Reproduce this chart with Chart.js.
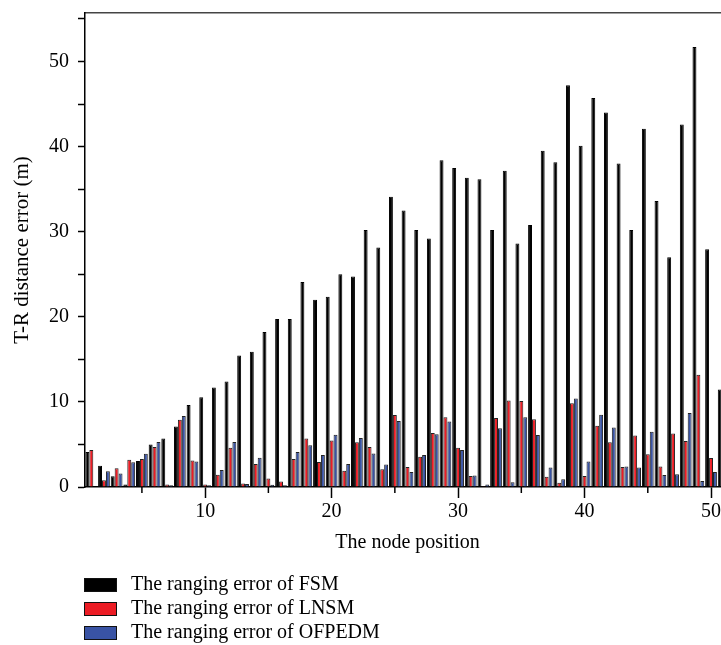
<!DOCTYPE html>
<html>
<head>
<meta charset="utf-8">
<script src="https://cdn.jsdelivr.net/npm/chart.js@4.4.0/dist/chart.umd.min.js"></script>
<style>
html, body { margin: 0; padding: 0; overflow: hidden; background: #fff; }
canvas { display: block; }
</style>
</head>
<body>
<canvas id="myChart" width="740" height="645"></canvas>
<script>
// node positions on the x axis
var nodePositions = ['1','2','3','4','5','6','7','8','9','10','11','12','13','14','15','16','17','18','19','20',
    '21','22','23','24','25','26','27','28','29','30','31','32','33','34','35','36','37','38','39','40',
    '41','42','43','44','45','46','47','48','49','50','51'];

// ranging errors (m)
var fsmError = [4.1, 2.5, 1.25, 0.3, 3.05, 5.0, 5.7, 7.1, 9.65, 10.55,
    11.7, 12.4, 15.45, 15.9, 18.2, 19.75, 19.75, 24.1, 22.0, 22.35,
    25.0, 24.75, 30.2, 28.15, 34.1, 32.5, 30.2, 29.2, 38.4, 37.5,
    36.35, 36.15, 30.2, 37.15, 28.6, 30.8, 39.5, 38.15, 47.2, 40.1,
    45.7, 44.0, 38.0, 30.2, 42.1, 33.6, 27.0, 42.6, 51.7, 27.95, 11.45];
var lnsmError = [4.35, 0.8, 2.2, 3.2, 3.3, 4.7, 0.3, 7.9, 3.1, 0.3,
    1.45, 4.6, 0.4, 2.7, 1.0, 0.65, 3.3, 5.7, 2.95, 5.45,
    1.9, 5.25, 4.7, 2.1, 8.45, 2.35, 3.55, 6.35, 8.2, 4.6,
    1.3, 0.1, 8.1, 10.15, 10.1, 7.95, 1.2, 0.5, 9.85, 1.3,
    7.2, 5.25, 2.35, 6.05, 3.85, 2.4, 6.3, 5.4, 13.2, 3.4, 2.0];
var ofpedmError = [0, 1.85, 1.6, 2.9, 3.9, 5.3, 0.2, 8.35, 3.0, 0.2,
    2.0, 5.3, 0.35, 3.45, 0.25, 0.2, 4.1, 4.9, 3.75, 6.15,
    2.7, 5.75, 3.95, 2.65, 7.75, 1.75, 3.75, 6.2, 7.7, 4.35,
    1.35, 0.3, 6.9, 0.55, 8.2, 6.1, 2.3, 0.9, 10.4, 3.0,
    8.5, 7.0, 2.4, 2.3, 6.5, 1.4, 1.5, 8.7, 0.7, 1.75, 1.5];

// tick values
var xMajorTicks = [10, 20, 30, 40, 50];
var xMinorTicks = [5, 15, 25, 35, 45];
var yTicks = [0, 5, 10, 15, 20, 25, 30, 35, 40, 45, 50, 55];

var serif = '"Liberation Serif", "Times New Roman", serif';
Chart.defaults.font.family = serif;
Chart.defaults.font.size = 20;
Chart.defaults.color = '#000';

// legend stacked under the axis, left aligned
var legendBelow = {
    id: 'legendBelow',
    afterDraw: function(chart) {
        var ctx = chart.ctx;
        ctx.save();
        ctx.font = '20px ' + serif;
        ctx.textBaseline = 'middle';
        chart.data.datasets.forEach(function(ds, i) {
            var y = 585 + i * 24;
            ctx.fillStyle = ds.backgroundColor;
            ctx.fillRect(84, y - 7, 33, 14);
            ctx.strokeStyle = '#111';
            ctx.lineWidth = 1;
            ctx.strokeRect(84.5, y - 6.5, 32, 13);
            ctx.fillStyle = '#000';
            ctx.fillText(ds.label, 131, y);
        });
        ctx.restore();
    }
};

// short minor ticks on the x axis
var minorTicks = {
    id: 'minorTicks',
    afterDraw: function(chart) {
        var s = chart.scales.xt;
        var ctx = chart.ctx;
        ctx.save();
        ctx.strokeStyle = '#000';
        ctx.lineWidth = 1.5;
        xMinorTicks.forEach(function(v) {
            var px = s.getPixelForValue(v);
            ctx.beginPath();
            ctx.moveTo(px, s.top);
            ctx.lineTo(px, s.top + 6);
            ctx.stroke();
        });
        ctx.restore();
    }
};

var ctx = document.getElementById('myChart').getContext('2d');
var myChart = new Chart(ctx, {
    type: 'bar',
    data: {
        labels: nodePositions,
        datasets: [
            {
                label: 'The ranging error of FSM',
                data: fsmError,
                backgroundColor: '#000000',
                borderColor: '#000000',
                borderWidth: 1,
                xAxisID: 'x'
            },
            {
                label: 'The ranging error of LNSM',
                data: lnsmError,
                backgroundColor: '#ec1c24',
                borderColor: '#222222',
                borderWidth: 1,
                xAxisID: 'x'
            },
            {
                label: 'The ranging error of OFPEDM',
                data: ofpedmError,
                backgroundColor: '#3953a4',
                borderColor: '#222222',
                borderWidth: 1,
                xAxisID: 'x'
            }
        ]
    },
    options: {
        responsive: false,
        animation: false,
        events: [],
        categoryPercentage: 0.93,
        barPercentage: 1.0,
        layout: {
            padding: { left: 0, right: 10, top: 0, bottom: 80 }
        },
        plugins: {
            legend: { display: false },
            tooltip: { enabled: false }
        },
        scales: {
            x: {
                type: 'category',
                display: false,
                offset: true
            },
            xt: {
                type: 'linear',
                position: 'bottom',
                min: 0.5,
                max: 51.5,
                offset: false,
                afterBuildTicks: function(s) {
                    s.ticks = xMajorTicks.map(function(v) { return { value: v }; });
                },
                afterFit: function(s) {
                    s.height = 78;
                    s.paddingLeft = 0;
                    s.paddingRight = 0;
                },
                ticks: { padding: 2, maxRotation: 0, autoSkip: false },
                grid: { offset: false, drawOnChartArea: false, tickLength: 11, tickWidth: 1.5, tickColor: '#000' },
                border: { color: '#000', width: 1.5 },
                title: {
                    display: true,
                    text: 'The node position',
                    padding: { top: 0, bottom: 10 }
                }
            },
            xtop: {
                type: 'linear',
                position: 'top',
                min: 0.5,
                max: 51.5,
                offset: false,
                afterFit: function(s) {
                    s.height = 13;
                    s.paddingLeft = 0;
                    s.paddingRight = 0;
                },
                ticks: { display: false },
                grid: { offset: false, drawOnChartArea: false, drawTicks: false },
                border: { color: '#444', width: 1.5 }
            },
            y: {
                min: 0,
                max: 55.7,
                afterBuildTicks: function(s) {
                    s.ticks = yTicks.map(function(v) { return { value: v }; });
                },
                afterFit: function(s) {
                    s.width = 85;
                    s.paddingTop = 0;
                    s.paddingBottom = 0;
                },
                ticks: {
                    padding: 9,
                    callback: function(v) { return v % 10 === 0 ? v : ''; }
                },
                grid: { drawOnChartArea: false, tickLength: 7, tickWidth: 1.5, tickColor: '#000' },
                border: { color: '#000', width: 1.5 },
                title: {
                    display: true,
                    text: 'T-R distance error (m)',
                    font: { size: 21 },
                    padding: { top: 10, bottom: 0 }
                }
            }
        }
    },
    plugins: [legendBelow, minorTicks]
});
</script>
</body>
</html>
